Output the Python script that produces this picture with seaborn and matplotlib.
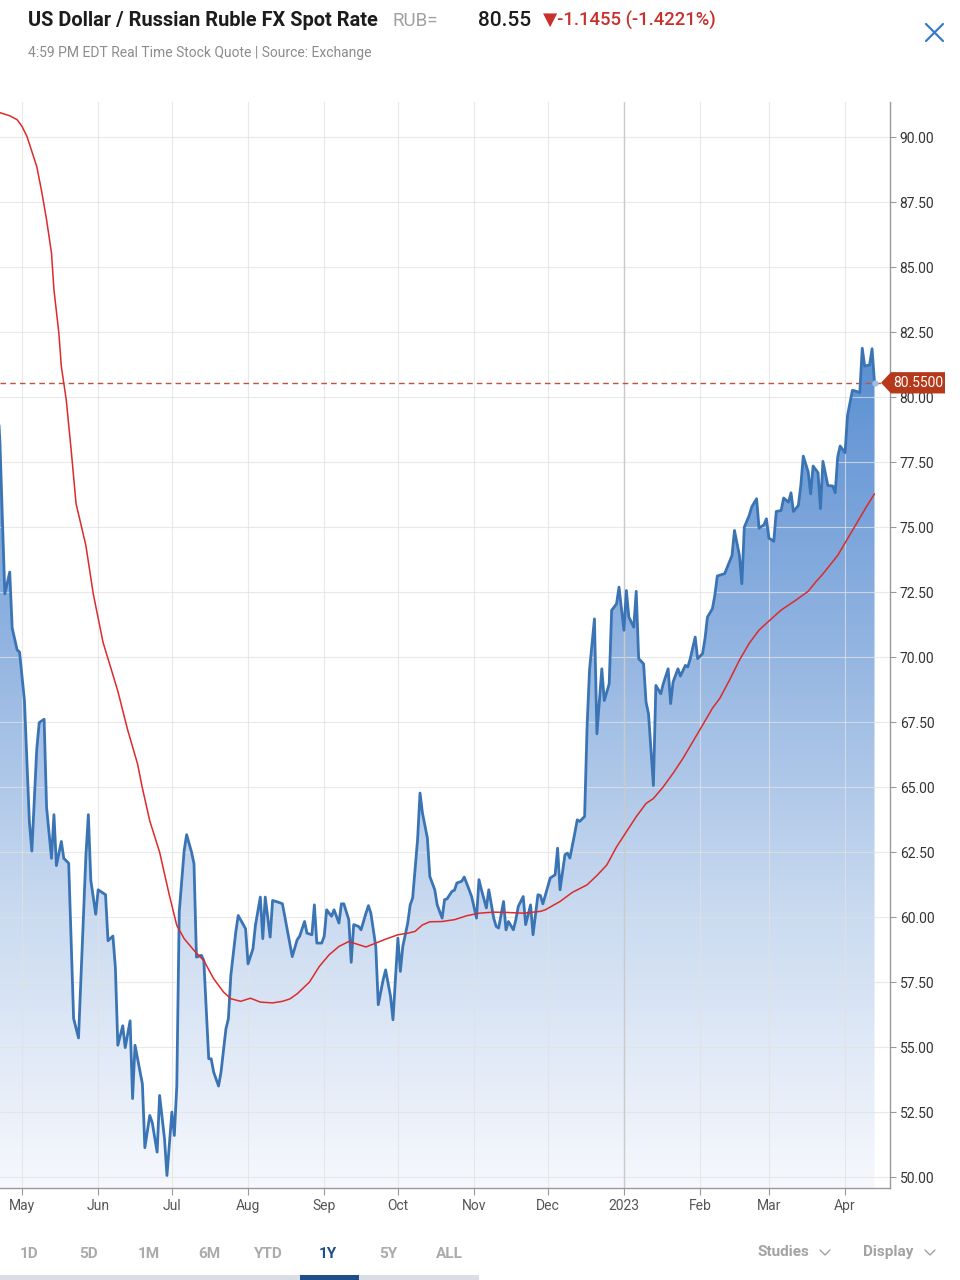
import matplotlib

matplotlib.use("Agg")
import matplotlib.pyplot as plt
import matplotlib.dates as mdates
import matplotlib.transforms as mtransforms
from matplotlib.colors import LinearSegmentedColormap
from matplotlib.lines import Line2D
from matplotlib.patches import PathPatch, Polygon, Rectangle
from matplotlib.path import Path
from matplotlib.ticker import FormatStrFormatter
import numpy as np
import pandas as pd
import seaborn as sns

# USD/RUB close
BLUE_DATES = [
    "2022-04-21", "2022-04-22", "2022-04-24", "2022-04-26", "2022-04-27", "2022-04-29", "2022-04-30",
    "2022-05-02", "2022-05-04", "2022-05-05", "2022-05-07", "2022-05-08", "2022-05-10", "2022-05-11",
    "2022-05-13", "2022-05-14", "2022-05-15", "2022-05-17", "2022-05-18", "2022-05-20", "2022-05-22",
    "2022-05-24", "2022-05-25", "2022-05-27", "2022-05-28", "2022-05-29", "2022-05-31",
    "2022-06-01", "2022-06-04", "2022-06-05", "2022-06-07", "2022-06-08", "2022-06-09", "2022-06-11",
    "2022-06-12", "2022-06-14", "2022-06-15", "2022-06-16", "2022-06-19", "2022-06-20", "2022-06-22",
    "2022-06-23", "2022-06-25", "2022-06-26", "2022-06-28", "2022-06-29",
    "2022-07-01", "2022-07-02", "2022-07-03", "2022-07-04", "2022-07-06", "2022-07-07", "2022-07-09",
    "2022-07-10", "2022-07-11", "2022-07-13", "2022-07-14", "2022-07-16", "2022-07-17", "2022-07-18",
    "2022-07-20", "2022-07-21", "2022-07-23", "2022-07-24", "2022-07-25", "2022-07-27", "2022-07-28",
    "2022-07-31",
    "2022-08-01", "2022-08-03", "2022-08-04", "2022-08-06", "2022-08-07", "2022-08-08", "2022-08-10",
    "2022-08-11", "2022-08-13", "2022-08-14", "2022-08-15", "2022-08-17", "2022-08-19", "2022-08-21",
    "2022-08-22", "2022-08-24", "2022-08-25", "2022-08-27", "2022-08-28", "2022-08-29", "2022-08-31",
    "2022-09-01", "2022-09-02", "2022-09-04", "2022-09-05", "2022-09-07", "2022-09-08", "2022-09-09",
    "2022-09-11", "2022-09-12", "2022-09-13", "2022-09-15", "2022-09-16", "2022-09-18", "2022-09-19",
    "2022-09-20", "2022-09-22", "2022-09-23", "2022-09-25", "2022-09-26", "2022-09-28", "2022-09-29",
    "2022-10-01", "2022-10-02", "2022-10-03", "2022-10-05", "2022-10-06", "2022-10-07", "2022-10-09",
    "2022-10-10", "2022-10-11", "2022-10-13", "2022-10-14", "2022-10-16", "2022-10-17", "2022-10-19",
    "2022-10-20", "2022-10-21", "2022-10-23", "2022-10-24", "2022-10-25", "2022-10-27", "2022-10-28",
    "2022-10-30", "2022-10-31",
    "2022-11-02", "2022-11-03", "2022-11-04", "2022-11-06", "2022-11-07", "2022-11-09", "2022-11-10",
    "2022-11-11", "2022-11-13", "2022-11-14", "2022-11-15", "2022-11-17", "2022-11-18", "2022-11-19",
    "2022-11-21", "2022-11-22", "2022-11-24", "2022-11-25", "2022-11-27", "2022-11-28", "2022-11-29",
    "2022-12-01", "2022-12-02", "2022-12-04", "2022-12-05", "2022-12-06", "2022-12-08", "2022-12-09",
    "2022-12-10", "2022-12-12", "2022-12-13", "2022-12-14", "2022-12-16", "2022-12-17", "2022-12-18",
    "2022-12-20", "2022-12-21", "2022-12-23", "2022-12-24", "2022-12-26", "2022-12-27", "2022-12-29",
    "2022-12-30",
    "2023-01-01", "2023-01-02", "2023-01-03", "2023-01-05", "2023-01-06", "2023-01-07", "2023-01-09",
    "2023-01-10", "2023-01-11", "2023-01-13", "2023-01-14", "2023-01-16", "2023-01-17", "2023-01-19",
    "2023-01-20", "2023-01-21", "2023-01-23", "2023-01-24", "2023-01-26", "2023-01-27", "2023-01-28",
    "2023-01-30", "2023-01-31",
    "2023-02-02", "2023-02-03", "2023-02-04", "2023-02-06", "2023-02-07", "2023-02-08", "2023-02-11",
    "2023-02-14", "2023-02-15", "2023-02-17", "2023-02-18", "2023-02-19", "2023-02-21", "2023-02-22",
    "2023-02-24", "2023-02-25", "2023-02-27", "2023-02-28",
    "2023-03-01", "2023-03-03", "2023-03-04", "2023-03-06", "2023-03-07", "2023-03-09", "2023-03-10",
    "2023-03-11", "2023-03-13", "2023-03-14", "2023-03-15", "2023-03-17", "2023-03-18", "2023-03-19",
    "2023-03-21", "2023-03-22", "2023-03-23", "2023-03-25", "2023-03-27", "2023-03-28", "2023-03-29",
    "2023-03-30",
    "2023-04-01", "2023-04-02", "2023-04-04", "2023-04-05", "2023-04-07", "2023-04-08", "2023-04-09",
    "2023-04-11", "2023-04-12", "2023-04-13",
]
BLUE_CLOSE = [
    80.00, 78.30, 72.43, 73.27, 71.12, 70.28, 70.19,
    68.32, 63.66, 62.54, 66.46, 67.48, 67.61, 64.22,
    62.26, 63.94, 61.98, 62.91, 62.26, 62.07, 56.10,
    55.35, 57.69, 62.35, 63.94, 61.42, 60.11,
    61.05, 60.86, 59.09, 59.27, 58.06, 55.07, 55.82,
    54.98, 56.01, 53.02, 55.07, 53.58, 51.13, 52.37,
    52.10, 50.96, 53.14, 51.47, 50.06,
    52.50, 51.60, 53.50, 60.20, 62.56, 63.17, 62.50,
    62.05, 58.46, 58.53, 58.33, 54.55, 54.55, 54.04,
    53.50, 54.04, 55.70, 56.09, 57.76, 59.42, 60.06,
    59.55,
    58.20, 58.78, 59.68, 60.77, 59.17, 60.77, 59.23,
    60.64, 60.58, 60.55, 60.51, 59.49, 58.48, 59.13,
    59.26, 59.83, 59.38, 59.32, 60.47, 59.00, 59.00,
    59.26, 60.28, 60.03, 60.28, 59.77, 60.51, 60.51,
    59.90, 58.26, 59.71, 59.64, 59.51, 60.15, 60.44,
    60.15, 58.87, 56.63, 57.59, 57.97, 56.95, 56.05,
    59.19, 57.91, 58.87, 59.77, 60.47, 60.73, 62.97,
    64.77, 64.00, 63.04, 61.56, 61.05, 60.47, 59.96,
    60.67, 60.70, 60.99, 61.03, 61.31, 61.38, 61.54,
    61.05, 60.79,
    59.96, 61.44, 61.05, 60.35, 61.05, 59.96, 59.64,
    59.58, 60.60, 59.51, 59.83, 59.51, 59.90, 60.41,
    60.79, 59.71, 60.47, 59.32, 60.86, 60.83, 60.51,
    61.18, 61.50, 61.63, 62.65, 61.05, 62.40, 62.46,
    62.27, 63.23, 63.74, 63.68, 63.87, 67.33, 69.51,
    71.47, 67.05, 69.55, 68.33, 68.97, 71.80, 72.05,
    72.69,
    71.03, 72.56, 71.54, 71.15, 72.53, 69.94, 69.74,
    68.27, 67.82, 65.06, 68.91, 68.59, 68.97, 69.55,
    68.21, 69.04, 69.55, 69.27, 69.68, 69.62, 69.94,
    70.77, 69.94,
    70.13, 70.71, 71.54, 71.86, 72.37, 73.12, 73.21,
    73.91, 74.87, 73.91, 72.82, 75.00, 75.45, 75.77,
    76.09, 74.96, 75.09, 75.32,
    74.58, 74.45, 75.60, 75.64, 76.12, 75.96, 76.32,
    75.60, 75.83, 76.60, 77.73, 77.12, 76.28, 77.35,
    77.09, 75.71, 77.53, 76.60, 76.58, 76.32, 77.69,
    78.12,
    77.86, 79.29, 80.26, 80.24, 80.17, 81.88, 81.19,
    81.24, 81.86, 80.55,
]

# moving average study (red line)
MA_DATES = [
    "2022-04-21", "2022-04-26", "2022-04-29", "2022-05-01", "2022-05-03", "2022-05-05", "2022-05-07",
    "2022-05-09", "2022-05-11", "2022-05-13", "2022-05-14", "2022-05-16", "2022-05-17", "2022-05-19",
    "2022-05-21", "2022-05-23", "2022-05-27", "2022-05-30", "2022-06-03", "2022-06-06", "2022-06-09",
    "2022-06-13", "2022-06-17", "2022-06-19", "2022-06-22", "2022-06-26", "2022-06-30", "2022-07-03",
    "2022-07-06", "2022-07-10", "2022-07-14", "2022-07-18", "2022-07-22", "2022-07-25", "2022-07-29",
    "2022-08-02", "2022-08-06", "2022-08-11", "2022-08-15", "2022-08-18", "2022-08-21", "2022-08-26",
    "2022-08-30", "2022-09-03", "2022-09-07", "2022-09-11", "2022-09-14", "2022-09-18", "2022-09-22",
    "2022-09-26", "2022-10-01", "2022-10-05", "2022-10-08", "2022-10-11", "2022-10-14", "2022-10-19",
    "2022-10-24", "2022-10-29", "2022-11-03", "2022-11-09", "2022-11-14", "2022-11-21", "2022-11-28",
    "2022-11-30", "2022-12-06", "2022-12-11", "2022-12-17", "2022-12-21", "2022-12-25", "2022-12-29",
    "2023-01-02", "2023-01-06", "2023-01-10", "2023-01-13", "2023-01-17", "2023-01-21", "2023-01-25",
    "2023-01-29", "2023-02-02", "2023-02-06", "2023-02-09", "2023-02-13", "2023-02-17", "2023-02-21",
    "2023-02-25", "2023-02-28", "2023-03-06", "2023-03-12", "2023-03-17", "2023-03-20", "2023-03-23",
    "2023-03-29", "2023-04-02", "2023-04-06", "2023-04-10", "2023-04-13",
]
MA_VALUES = [
    90.97, 90.82, 90.67, 90.41, 90.03, 89.45, 88.87,
    87.91, 86.82, 85.54, 84.13, 82.46, 81.18, 79.90,
    77.97, 75.90, 74.29, 72.43, 70.56, 69.63, 68.69,
    67.20, 65.90, 64.96, 63.70, 62.50, 60.83, 59.68,
    59.17, 58.72, 58.33, 57.63, 57.12, 56.86, 56.76,
    56.88, 56.73, 56.70, 56.76, 56.85, 57.05, 57.50,
    58.10, 58.55, 58.87, 59.06, 58.97, 58.85, 59.00,
    59.15, 59.32, 59.38, 59.45, 59.70, 59.82, 59.83,
    59.90, 60.05, 60.15, 60.19, 60.18, 60.15, 60.22,
    60.28, 60.60, 60.95, 61.24, 61.60, 62.00, 62.70,
    63.28, 63.86, 64.37, 64.56, 65.01, 65.53, 66.10,
    66.74, 67.38, 68.03, 68.41, 69.12, 69.88, 70.53,
    71.04, 71.30, 71.81, 72.19, 72.53, 72.88, 73.20,
    73.91, 74.55, 75.19, 75.83, 76.28,
]

LAST_PRICE = 80.55
Y_TICKS = [50.0, 52.5, 55.0, 57.5, 60.0, 62.5, 65.0, 67.5, 70.0, 72.5, 75.0, 77.5, 80.0, 82.5, 85.0, 87.5, 90.0]
MONTH_STARTS = ["2022-05-01", "2022-06-01", "2022-07-01", "2022-08-01", "2022-09-01", "2022-10-01",
                "2022-11-01", "2022-12-01", "2023-01-01", "2023-02-01", "2023-03-01", "2023-04-01"]
MONTH_LABELS = ["May", "Jun", "Jul", "Aug", "Sep", "Oct", "Nov", "Dec", "2023", "Feb", "Mar", "Apr"]
RANGE_BUTTONS = ["1D", "5D", "1M", "6M", "YTD", "1Y", "5Y", "ALL"]

sns.set_theme(style="white")
plt.rcParams["font.family"] = ["Roboto", "DejaVu Sans"]

W, H = 960, 1280
fig = plt.figure(figsize=(W / 100, H / 100), dpi=100)
fig.patch.set_facecolor("white")
ax = fig.add_axes([0, 1 - 1188 / H, 890 / W, (1188 - 102) / H])


def fx(px):
    return px / W


def fy(py):
    return 1 - py / H


df = pd.DataFrame({"date": pd.to_datetime(BLUE_DATES), "close": BLUE_CLOSE})
ma = pd.DataFrame({"date": pd.to_datetime(MA_DATES), "ma": MA_VALUES})

ymin, ymax = 49.58, 91.35
x_left = pd.Timestamp("2022-05-01") - pd.Timedelta(days=8.96)
x_right = pd.Timestamp("2022-05-01") + pd.Timedelta(days=353.3)

sns.lineplot(data=df, x="date", y="close", ax=ax, color="#3a74b4", lw=2.0, estimator=None, sort=False, zorder=3)
sns.lineplot(data=ma, x="date", y="ma", ax=ax, color="#dd2a2a", lw=1.1, estimator=None, sort=False, zorder=4)

# gradient area under the close line
xs = mdates.date2num(df["date"])
ys = df["close"].to_numpy()
verts = np.vstack([np.column_stack([xs, ys]), [[xs[-1], ymin], [xs[0], ymin], [xs[0], ys[0]]]])
clip = PathPatch(Path(verts), transform=ax.transData, facecolor="none", edgecolor="none")
ax.add_patch(clip)
cmap = LinearSegmentedColormap.from_list("fill", ["#f6f8fd", "#c9daf0", "#8fb2e0", "#5a8fd2"])
grad = np.linspace(0, 1, 256).reshape(-1, 1)
im = ax.imshow(grad, extent=[xs[0], xs[-1], ymin, ys.max()], origin="lower", aspect="auto",
               cmap=cmap, zorder=1, interpolation="bilinear")
im.set_clip_path(clip)

ax.set_xlim(x_left, x_right)
ax.set_ylim(ymin, ymax)
ax.set_xlabel("")
ax.set_ylabel("")

ax.set_axisbelow("line")
ax.grid(True, color="#e2e2e2", lw=0.8, alpha=0.75)
ax.axvline(pd.Timestamp("2023-01-01"), color="#cacaca", lw=1.0, zorder=1.6)
ax.axhline(LAST_PRICE, color="#c2513c", lw=1.0, ls=(0, (4, 3)), zorder=2.5)

for side in ["left", "top"]:
    ax.spines[side].set_visible(False)
for side in ["right", "bottom"]:
    ax.spines[side].set_color("#9a9a9a")
    ax.spines[side].set_linewidth(1.0)

ax.yaxis.tick_right()
ax.set_yticks(Y_TICKS)
ax.yaxis.set_major_formatter(FormatStrFormatter("%.2f"))
ax.set_xticks(pd.to_datetime(MONTH_STARTS))
ax.set_xticklabels(MONTH_LABELS)
ax.tick_params(axis="y", right=True, left=False, labelright=True, labelleft=False,
               length=4, width=0.8, color="#9a9a9a", pad=3, labelsize=10, labelcolor="#333333")
ax.tick_params(axis="x", bottom=True, length=5, width=0.8, color="#9a9a9a", pad=3,
               labelsize=10, labelcolor="#555555")

# last price tag
blend = mtransforms.blended_transform_factory(fig.transFigure, ax.transData)
tag = Polygon([[fx(881), LAST_PRICE], [fx(891), LAST_PRICE + 0.41], [fx(945), LAST_PRICE + 0.41],
               [fx(945), LAST_PRICE - 0.41], [fx(891), LAST_PRICE - 0.41]],
              closed=True, transform=blend, facecolor="#b7391b", edgecolor="none", clip_on=False, zorder=6)
ax.add_patch(tag)
ax.text(fx(918), LAST_PRICE, f"{LAST_PRICE:.4f}", transform=blend, ha="center", va="center",
        fontsize=10, color="white", zorder=7, clip_on=False)
ax.plot(xs[-1], ys[-1], "o", ms=3.5, color="#9fc0e6", zorder=5)

# header
fig.text(fx(28), fy(21), "US Dollar / Russian Ruble FX Spot Rate", fontsize=14.4, fontweight="bold",
         color="#1c1c1c", va="center")
fig.text(fx(393), fy(21), "RUB=", fontsize=13.5, color="#a0a0a0", va="center")
fig.text(fx(478), fy(21), "80.55", fontsize=15, color="#1c1c1c", va="center", fontweight="medium")
fig.text(fx(543), fy(21), "▼-1.1455 (-1.4221%)", fontsize=13.3, color="#c9302c", va="center",
         fontweight="medium")
fig.text(fx(28), fy(53), "4:59 PM EDT Real Time Stock Quote | Source: Exchange", fontsize=10,
         color="#8c8c8c", va="center")
for a, b in [((926, 24), (943, 41)), ((943, 24), (926, 41))]:
    fig.add_artist(Line2D([fx(a[0]), fx(b[0])], [fy(a[1]), fy(b[1])], color="#3a7cc4", lw=1.6))

# range selector row
btn_x = [29, 89, 149, 209, 268, 328, 388, 449]
for label, bx in zip(RANGE_BUTTONS, btn_x):
    active = label == "1Y"
    fig.text(fx(bx), fy(1254), label, ha="center", va="center", fontsize=11, fontweight="bold",
             color="#1f4e8c" if active else "#ababab")
fig.add_artist(Rectangle((0, 0), fx(479), 5 / H, transform=fig.transFigure, facecolor="#d9dee5",
                         edgecolor="none"))
fig.add_artist(Rectangle((fx(300), 0), fx(59), 5 / H, transform=fig.transFigure, facecolor="#1f4e8c",
                         edgecolor="none"))
for label, tx, cx in [("Studies", 757, 825), ("Display", 863, 930)]:
    fig.text(fx(tx), fy(1252), label, va="center", fontsize=11, fontweight="bold", color="#a3a3a3")
    fig.add_artist(Line2D([fx(cx - 5), fx(cx), fx(cx + 5)], [fy(1250), fy(1255), fy(1250)],
                          color="#a3a3a3", lw=1.0))

fig.savefig("out.png", dpi=100)
